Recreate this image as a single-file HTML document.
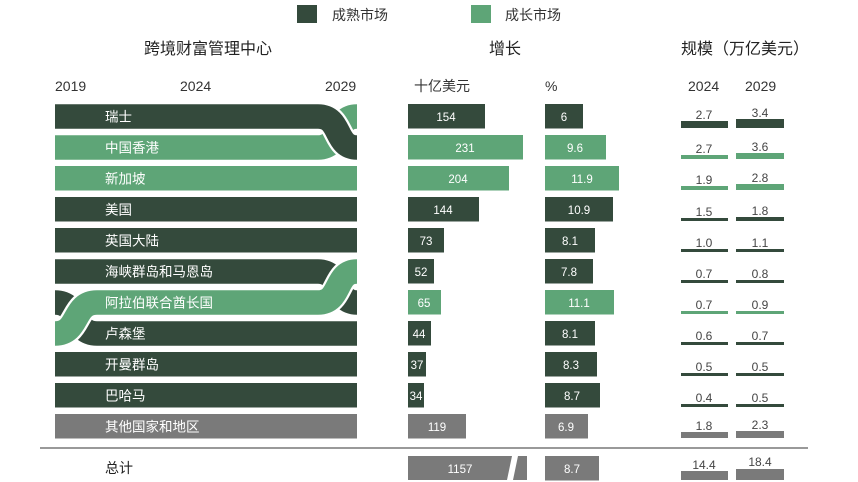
<!DOCTYPE html>
<html><head><meta charset="utf-8"><style>
body{margin:0;background:#fff}
svg{display:block}
text{font-family:"Liberation Sans","Noto Sans CJK SC",sans-serif}
</style></head><body>
<svg width="858" height="482" viewBox="0 0 858 482" xmlns="http://www.w3.org/2000/svg">
<defs><clipPath id="c"><rect x="55" y="90" width="302" height="360"/></clipPath></defs>
<rect x="297" y="5" width="20" height="18" fill="#344a3c"/>
<text x="332" y="20" font-size="14" fill="#333">成熟市场</text>
<rect x="471" y="5" width="20" height="18" fill="#5ea577"/>
<text x="505" y="20" font-size="14" fill="#333">成长市场</text>
<g font-size="16" fill="#222" text-anchor="middle">
<text x="208" y="54">跨境财富管理中心</text>
<text x="505" y="54">增长</text>
<text x="745" y="54">规模（万亿美元）</text>
</g>
<g font-size="14" fill="#333">
<text x="55" y="91">2019</text>
<text x="180" y="91">2024</text>
<text x="325" y="91">2029</text>
<text x="414" y="91">十亿美元</text>
<text x="545" y="91">%</text>
<text x="688" y="91">2024</text>
<text x="745" y="91">2029</text>
</g>
<g clip-path="url(#c)">
<rect x="55" y="197" width="302" height="24.5" fill="#344a3c"/>
<rect x="55" y="228" width="302" height="24.5" fill="#344a3c"/>
<rect x="55" y="352" width="302" height="24.5" fill="#344a3c"/>
<rect x="55" y="383" width="302" height="24.5" fill="#344a3c"/>
<rect x="55" y="414" width="302" height="24.5" fill="#7a7a7a"/>
<g fill="none" stroke-linecap="butt">
<path d="M55,147.5 L318,147.5 C342,147.5 334,116.5 357,116.5 L370,116.5" stroke="#fff" stroke-width="29"/>
<path d="M55,147.5 L318,147.5 C342,147.5 334,116.5 357,116.5 L370,116.5" stroke="#5ea577" stroke-width="24.5"/>
<path d="M45,116.5 L318,116.5 C342,116.5 334,147.5 357,147.5 L370,147.5" stroke="#fff" stroke-width="29"/>
<path d="M45,116.5 L318,116.5 C342,116.5 334,147.5 357,147.5 L370,147.5" stroke="#344a3c" stroke-width="24.5"/>
<path d="M45,302.5 L55,302.5 C80,302.5 72,333.5 97,333.5 L370,333.5" stroke="#fff" stroke-width="29"/>
<path d="M45,302.5 L55,302.5 C80,302.5 72,333.5 97,333.5 L370,333.5" stroke="#344a3c" stroke-width="24.5"/>
<path d="M45,271.5 L318,271.5 C342,271.5 334,302.5 357,302.5 L370,302.5" stroke="#344a3c" stroke-width="24.5"/>
<path d="M45,333.5 L55,333.5 C80,333.5 72,302.5 97,302.5 L318,302.5 C342,302.5 334,271.5 357,271.5 L370,271.5" stroke="#fff" stroke-width="29"/>
<path d="M45,333.5 L55,333.5 C80,333.5 72,302.5 97,302.5 L318,302.5 C342,302.5 334,271.5 357,271.5 L370,271.5" stroke="#5ea577" stroke-width="24.5"/>
</g>
</g>
<rect x="55" y="166" width="302" height="24.5" fill="#5ea577"/>
<g font-size="13.5" fill="#fff">
<text x="105" y="121.5">瑞士</text>
<text x="105" y="152.5">中国香港</text>
<text x="105" y="183.5">新加坡</text>
<text x="105" y="214.5">美国</text>
<text x="105" y="245.5">英国大陆</text>
<text x="105" y="276.5">海峡群岛和马恩岛</text>
<text x="105" y="307.5">阿拉伯联合酋长国</text>
<text x="105" y="338.5">卢森堡</text>
<text x="105" y="369.5">开曼群岛</text>
<text x="105" y="400.5">巴哈马</text>
<text x="105" y="431.5">其他国家和地区</text>
</g>
<text x="105" y="473" font-size="14" fill="#222">总计</text>
<rect x="40" y="447" width="768" height="2" fill="#999"/>
<g>
<rect x="408" y="104" width="77" height="24.5" fill="#344a3c"/>
<rect x="408" y="135" width="115" height="24.5" fill="#5ea577"/>
<rect x="408" y="166" width="101" height="24.5" fill="#5ea577"/>
<rect x="408" y="197" width="71" height="24.5" fill="#344a3c"/>
<rect x="408" y="228" width="36" height="24.5" fill="#344a3c"/>
<rect x="408" y="259" width="26" height="24.5" fill="#344a3c"/>
<rect x="408" y="290" width="33" height="24.5" fill="#5ea577"/>
<rect x="408" y="321" width="23" height="24.5" fill="#344a3c"/>
<rect x="408" y="352" width="18" height="24.5" fill="#344a3c"/>
<rect x="408" y="383" width="16" height="24.5" fill="#344a3c"/>
<rect x="408" y="414" width="58" height="24.5" fill="#7a7a7a"/>
<polygon points="408,456 512,456 507,480 408,480" fill="#7a7a7a"/>
<polygon points="518,456 527,456 527,480 513,480" fill="#7a7a7a"/>
<rect x="545" y="104" width="38" height="24.5" fill="#344a3c"/>
<rect x="545" y="135" width="61" height="24.5" fill="#5ea577"/>
<rect x="545" y="166" width="74" height="24.5" fill="#5ea577"/>
<rect x="545" y="197" width="68" height="24.5" fill="#344a3c"/>
<rect x="545" y="228" width="50" height="24.5" fill="#344a3c"/>
<rect x="545" y="259" width="48" height="24.5" fill="#344a3c"/>
<rect x="545" y="290" width="69" height="24.5" fill="#5ea577"/>
<rect x="545" y="321" width="50" height="24.5" fill="#344a3c"/>
<rect x="545" y="352" width="52" height="24.5" fill="#344a3c"/>
<rect x="545" y="383" width="55" height="24.5" fill="#344a3c"/>
<rect x="545" y="414" width="43" height="24.5" fill="#7a7a7a"/>
<rect x="545" y="456" width="54" height="24.5" fill="#7a7a7a"/>
</g>
<g font-size="11.5" fill="#fff" text-anchor="middle">
<text x="446" y="121">154</text><text x="465" y="152">231</text><text x="458" y="183">204</text>
<text x="443" y="214">144</text><text x="426" y="245">73</text><text x="421" y="276">52</text>
<text x="424" y="307">65</text><text x="419" y="338">44</text><text x="417" y="369">37</text>
<text x="416" y="400">34</text><text x="437" y="431">119</text><text x="460" y="473">1157</text>
<text x="564" y="121">6</text><text x="575" y="152">9.6</text><text x="582" y="183">11.9</text>
<text x="579" y="214">10.9</text><text x="570" y="245">8.1</text><text x="569" y="276">7.8</text>
<text x="579" y="307">11.1</text><text x="570" y="338">8.1</text><text x="571" y="369">8.3</text>
<text x="572" y="400">8.7</text><text x="566" y="431">6.9</text><text x="572" y="473">8.7</text>
</g>
<g>
<rect x="681" y="121" width="47" height="7" fill="#344a3c"/><rect x="736" y="119" width="48" height="9" fill="#344a3c"/>
<rect x="681" y="155" width="47" height="4" fill="#5ea577"/><rect x="736" y="153" width="48" height="6" fill="#5ea577"/>
<rect x="681" y="186" width="47" height="4" fill="#5ea577"/><rect x="736" y="184" width="48" height="6" fill="#5ea577"/>
<rect x="681" y="218" width="47" height="3" fill="#344a3c"/><rect x="736" y="217" width="48" height="4" fill="#344a3c"/>
<rect x="681" y="249" width="47" height="3" fill="#344a3c"/><rect x="736" y="249" width="48" height="3" fill="#344a3c"/>
<rect x="681" y="280" width="47" height="3" fill="#344a3c"/><rect x="736" y="280" width="48" height="3" fill="#344a3c"/>
<rect x="681" y="311" width="47" height="3" fill="#5ea577"/><rect x="736" y="311" width="48" height="3" fill="#5ea577"/>
<rect x="681" y="342" width="47" height="3" fill="#344a3c"/><rect x="736" y="342" width="48" height="3" fill="#344a3c"/>
<rect x="681" y="373" width="47" height="3" fill="#344a3c"/><rect x="736" y="373" width="48" height="3" fill="#344a3c"/>
<rect x="681" y="404" width="47" height="3" fill="#344a3c"/><rect x="736" y="404" width="48" height="3" fill="#344a3c"/>
<rect x="681" y="432" width="47" height="6" fill="#7a7a7a"/><rect x="736" y="431" width="48" height="7" fill="#7a7a7a"/>
<rect x="681" y="471" width="47" height="9" fill="#7a7a7a"/><rect x="736" y="469" width="48" height="11" fill="#7a7a7a"/>
</g>
<g font-size="12" fill="#444" text-anchor="middle">
<text x="704" y="119">2.7</text><text x="760" y="117">3.4</text>
<text x="704" y="153">2.7</text><text x="760" y="151">3.6</text>
<text x="704" y="184">1.9</text><text x="760" y="182">2.8</text>
<text x="704" y="216">1.5</text><text x="760" y="215">1.8</text>
<text x="704" y="247">1.0</text><text x="760" y="247">1.1</text>
<text x="704" y="278">0.7</text><text x="760" y="278">0.8</text>
<text x="704" y="309">0.7</text><text x="760" y="309">0.9</text>
<text x="704" y="340">0.6</text><text x="760" y="340">0.7</text>
<text x="704" y="371">0.5</text><text x="760" y="371">0.5</text>
<text x="704" y="402">0.4</text><text x="760" y="402">0.5</text>
<text x="704" y="430">1.8</text><text x="760" y="429">2.3</text>
<text x="704" y="469">14.4</text><text x="760" y="466">18.4</text>
</g>
</svg>
</body></html>
